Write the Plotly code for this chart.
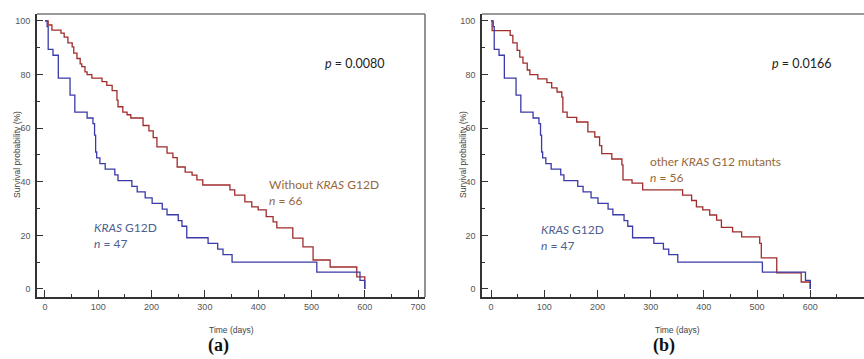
import plotly.graph_objects as go

# ---------------- data ----------------
# KRAS G12D (same curve in both panels)
g12d_time = [0, 4, 6, 15, 25, 47, 56, 79, 90, 93, 95, 97, 103, 113, 131, 137, 163, 173,
             188, 201, 220, 229, 250, 257, 266, 306, 324, 334, 351, 510, 591, 600]
g12d_surv = [100, 97.9, 89.4, 87.2, 78.7, 72.3, 66.0, 63.8, 61.7, 57.4, 51.1, 48.9, 46.8,
             44.7, 42.6, 40.4, 38.3, 36.2, 34.0, 31.9, 29.8, 27.7, 25.5, 23.4, 19.1, 17.0,
             14.9, 12.8, 10.0, 6.3, 3.2, 0]

# Without KRAS G12D (panel a)
wo_time = [0, 6, 13, 30, 36, 43, 51, 54, 60, 66, 69, 75, 79, 88, 107, 116, 126, 135, 137,
           146, 154, 161, 184, 195, 203, 210, 229, 240, 248, 263, 276, 285, 296, 347, 356,
           375, 388, 400, 415, 428, 435, 465, 484, 503, 535, 585, 600]
wo_surv = [100, 98.5, 96.6, 95.5, 94.0, 91.8, 90.3, 88.0, 86.0, 84.0, 83.0, 81.0, 80.0,
           78.7, 77.4, 76.0, 74.0, 70.5, 68.0, 66.0, 65.0, 63.8, 61.0, 59.0, 56.5, 53.0,
           50.7, 49.0, 45.5, 43.6, 42.5, 40.7, 38.8, 37.0, 35.0, 32.5, 30.6, 29.5, 27.0,
           25.0, 22.8, 19.0, 15.7, 10.8, 8.2, 4.5, 0]

# other KRAS G12 mutants (panel b)
oth_time = [0, 2, 36, 41, 49, 54, 60, 68, 73, 88, 105, 114, 124, 133, 135, 143, 161, 182,
            195, 204, 208, 227, 246, 248, 265, 285, 360, 377, 386, 398, 411, 424, 433, 454,
            471, 505, 508, 537, 583, 600]
oth_surv = [100, 96.4, 94.6, 91.8, 89.0, 86.5, 84.3, 81.7, 80.0, 78.4, 77.0, 75.0, 73.5,
            71.6, 66.0, 64.0, 62.3, 58.6, 56.7, 53.5, 50.5, 48.5, 46.3, 40.7, 39.5, 37.0,
            35.0, 33.0, 30.6, 29.5, 27.6, 25.7, 23.0, 21.3, 19.4, 17.0, 11.6, 6.0, 2.6, 0]

x_ticks = [0, 100, 200, 300, 400, 500, 600, 700]
y_ticks = [0, 20, 40, 60, 80, 100]

BLUE = "#3a3aa8"
RED = "#a02c2c"
BLUE_TXT = "#4d6190"
BROWN_TXT = "#96683e"

W, H = 864, 359


def px(x):
    return x / W


def py(y):
    return 1 - y / H


fig = go.Figure()

fig.add_trace(go.Scatter(x=wo_time, y=wo_surv, mode="lines", line=dict(shape="hv", color=RED, width=1.3),
                         xaxis="x", yaxis="y", showlegend=False))
fig.add_trace(go.Scatter(x=g12d_time, y=g12d_surv, mode="lines", line=dict(shape="hv", color=BLUE, width=1.3),
                         xaxis="x", yaxis="y", showlegend=False))
fig.add_trace(go.Scatter(x=oth_time, y=oth_surv, mode="lines", line=dict(shape="hv", color=RED, width=1.3),
                         xaxis="x2", yaxis="y2", showlegend=False))
fig.add_trace(go.Scatter(x=g12d_time, y=g12d_surv, mode="lines", line=dict(shape="hv", color=BLUE, width=1.3),
                         xaxis="x2", yaxis="y2", showlegend=False))

tickfont = dict(family="Liberation Sans, Arial, sans-serif", size=9, color="#555555")

xdt = x_ticks[1] - x_ticks[0]
ydt = y_ticks[1] - y_ticks[0]

xcommon = dict(tickmode="linear", tick0=x_ticks[0], dtick=xdt, ticks="inside", ticklen=7, tickwidth=1.2,
               tickcolor="#333333",
               showline=True, linecolor="#333333", linewidth=1.6, showgrid=False, zeroline=False,
               tickfont=tickfont, minor=dict(ticks="inside", ticklen=3, dtick=xdt / 2, tick0=0,
                                             tickcolor="#333333", tickwidth=1.2, showgrid=False))
ycommon = dict(tickmode="linear", tick0=y_ticks[0], dtick=ydt, ticks="inside", ticklen=6, tickwidth=1.2,
               tickcolor="#333333",
               showline=True, linecolor="#333333", linewidth=1.6, showgrid=False, zeroline=False,
               tickfont=tickfont, range=[-3, 102.6], ticklabelstandoff=3,
               minor=dict(ticks="inside", ticklen=3, dtick=ydt / 2, tick0=0,
                          tickcolor="#333333", tickwidth=1.2, showgrid=False))

ydom = [py(297), py(14)]
fig.update_layout(
    width=W, height=H, margin=dict(l=0, r=0, t=0, b=0),
    paper_bgcolor="white", plot_bgcolor="white",
    xaxis=dict(domain=[px(37), px(425)], range=[-15, 713], anchor="y", **xcommon),
    yaxis=dict(domain=ydom, anchor="x", **ycommon),
    xaxis2=dict(domain=[px(482), 1.0], range=[-17, 701], anchor="y2", **xcommon),
    yaxis2=dict(domain=ydom, anchor="x2", **ycommon),
)

# grey frame (top / right)
fig.add_shape(type="line", xref="paper", yref="paper", x0=px(37), x1=px(425), y0=py(14), y1=py(14),
              line=dict(color="#777777", width=1.6))
fig.add_shape(type="line", xref="paper", yref="paper", x0=px(425), x1=px(425), y0=py(14), y1=py(297),
              line=dict(color="#777777", width=1.6))
fig.add_shape(type="line", xref="paper", yref="paper", x0=px(482), x1=1.0, y0=py(14), y1=py(14),
              line=dict(color="#777777", width=1.6))

TF = "Lato, Open Sans, sans-serif"


def ann(text, x, y, size=12, color="#222222", family=TF, xanchor="left", **kw):
    fig.add_annotation(text=text, x=px(x), y=py(y), xref="paper", yref="paper", showarrow=False,
                       xanchor=xanchor, yanchor="middle", align="left",
                       font=dict(family=family, size=size, color=color), **kw)


# panel a
ann("<i>p</i> = 0.0080", 323, 63, size=12.5)
ann("<i>KRAS</i> G12D<br><i>n</i> = 47", 92, 236, color=BLUE_TXT)
ann("Without <i>KRAS</i> G12D<br><i>n</i> = 66", 267, 192, color=BROWN_TXT)
# panel b
ann("<i>p</i> = 0.0166", 770, 63, size=12.5)
ann("<i>KRAS</i> G12D<br><i>n</i> = 47", 539, 237, color=BLUE_TXT)
ann("other <i>KRAS</i> G12 mutants<br><i>n</i> = 56", 648, 170, color=BROWN_TXT)

AF = "Liberation Sans, Arial, sans-serif"
for xc in (17, 463):
    ann("Survival probability (%)", xc, 155, size=8.5, color="#444444", family=AF, xanchor="center",
        textangle=-90)
for xc in (231, 677):
    ann("Time (days)", xc, 330, size=8.5, color="#444444", family=AF, xanchor="center")

ann("<b>(a)</b>", 218, 345, size=18, color="#111111", family="Liberation Serif, serif", xanchor="center")
ann("<b>(b)</b>", 664, 345, size=18, color="#111111", family="Liberation Serif, serif", xanchor="center")

fig.write_html("out.html")
